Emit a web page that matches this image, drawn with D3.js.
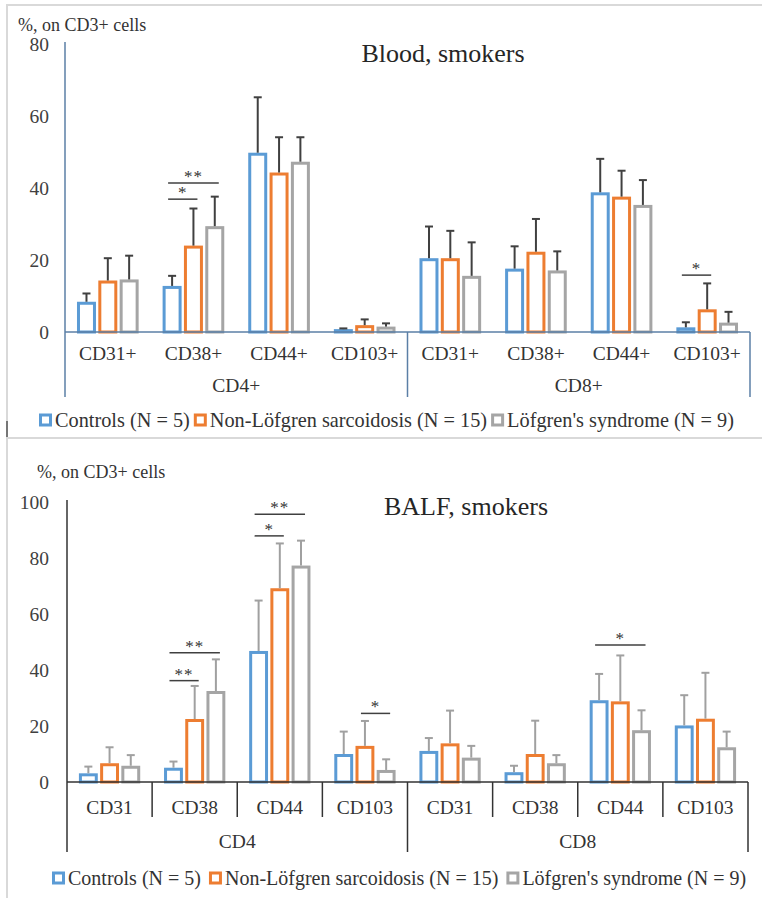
<!DOCTYPE html>
<html><head><meta charset="utf-8">
<script src="https://cdn.jsdelivr.net/npm/d3@7"></script>
<style>
html,body{margin:0;padding:0;background:#fff;}
</style></head>
<body>
<svg id="chart" width="762" height="898"></svg>
<script>
// ---------- DATA ----------
const seriesNames = ["Controls (N = 5)", "Non-Löfgren sarcoidosis (N = 15)", "Löfgren's syndrome (N = 9)"];
const seriesColors = ["#5B9BD5", "#ED7D31", "#A5A5A5"];

const bloodMarkers = ["CD31+", "CD38+", "CD44+", "CD103+", "CD31+", "CD38+", "CD44+", "CD103+"];
const bloodParents = ["CD4+", "CD8+"];
const bloodTicks = [0, 20, 40, 60, 80];
const bloodControls    = [8.4, 12.8, 49.8, 0.8, 20.5, 17.6, 38.8, 1.3];
const bloodControlsSD  = [2.3, 2.8, 15.4, 0.2, 8.8, 6.2, 9.3, 1.4];
const bloodNonLof      = [14.3, 24.0, 44.3, 1.9, 20.5, 22.3, 37.6, 6.3];
const bloodNonLofSD    = [6.2, 10.3, 9.8, 1.6, 7.6, 9.1, 7.2, 7.2];
const bloodLof         = [14.6, 29.4, 47.3, 1.5, 15.6, 17.1, 35.3, 2.6];
const bloodLofSD       = [6.6, 8.2, 6.8, 0.9, 9.3, 5.3, 6.9, 3.0];
// [category index, from series, to series, bracket level (%), label]
const bloodSig = [[1, 0, 1, 36.9, "*"], [1, 0, 2, 41.4, "**"], [7, 0, 1, 15.8, "*"]];

const balfMarkers = ["CD31", "CD38", "CD44", "CD103", "CD31", "CD38", "CD44", "CD103"];
const balfParents = ["CD4", "CD8"];
const balfTicks = [0, 20, 40, 60, 80, 100];
const balfControls   = [3.1, 5.1, 46.8, 10.0, 11.1, 3.5, 29.2, 20.2];
const balfControlsSD = [2.4, 2.2, 18.0, 8.0, 4.6, 2.3, 9.4, 10.8];
const balfNonLof     = [6.7, 22.5, 69.2, 12.9, 13.8, 10.0, 28.8, 22.6];
const balfNonLofSD   = [5.7, 11.8, 16.0, 8.9, 11.7, 11.9, 16.4, 16.4];
const balfLof        = [5.8, 32.5, 77.3, 4.3, 8.7, 6.7, 18.5, 12.4];
const balfLofSD      = [3.8, 11.3, 8.9, 3.8, 4.2, 2.9, 7.1, 5.6];
const balfSig = [[1, 0, 1, 36.2, "**"], [1, 0, 2, 46.2, "**"], [2, 0, 1, 87.9, "*"], [2, 0, 2, 95.6, "**"], [3, 1, 2, 24.5, "*"], [6, 0, 2, 48.9, "*"]];

// ---------- DRAW ----------
const FONT = "Liberation Serif";
const svg = d3.select("#chart");

// panel frames
svg.append("rect").attr("x", 7).attr("y", 5).attr("width", 770).attr("height", 433)
  .attr("fill", "none").attr("stroke", "#d9d9d9").attr("stroke-width", 2);
svg.append("rect").attr("x", 7).attr("y", 438).attr("width", 770).attr("height", 480)
  .attr("fill", "none").attr("stroke", "#d9d9d9").attr("stroke-width", 2);
svg.append("line").attr("x1", 7).attr("x2", 7).attr("y1", 421).attr("y2", 437)
  .attr("stroke", "#555").attr("stroke-width", 1.5);

function panel(o) {
  const g = svg.append("g");
  const idx = d3.range(o.markers.length);
  const x = d3.scaleBand().domain(idx).range([o.x0, o.x1]);
  const y = d3.scaleLinear().domain([0, o.ticks[o.ticks.length - 1]]).range([o.yBase, o.yTop]);
  const bw = x.bandwidth();
  const pad = bw * 0.14;
  const xs = d3.scaleBand().domain(d3.range(3)).range([pad, bw - pad]).paddingInner(0.11);
  const sw = 3;

  // y tick labels
  g.selectAll(".yt").data(o.ticks).join("text")
    .attr("x", o.yLabelX).attr("y", d => y(d) + 7)
    .attr("text-anchor", "end").attr("font-family", FONT).attr("font-size", 19.5).attr("fill", "#404040")
    .text(d => d);

  // unit label
  g.append("text").attr("x", o.unitX).attr("y", o.unitY).attr("font-family", FONT).attr("font-size", 18)
    .attr("fill", "#333").text("%, on CD3+ cells");
  // title
  g.append("text").attr("x", o.titleX).attr("y", o.titleY).attr("text-anchor", "middle")
    .attr("font-family", FONT).attr("font-size", 26).attr("fill", "#262626").text(o.title);

  // bars
  o.series.forEach((vals, s) => {
    g.selectAll(".b" + s).data(idx).join("rect")
      .attr("x", i => x(i) + xs(s) + sw / 2)
      .attr("width", xs.bandwidth() - sw)
      .attr("y", i => y(vals[i]) + sw / 2)
      .attr("height", i => Math.max(0, y(0) - y(vals[i]) - sw / 2))
      .attr("fill", "#fff").attr("stroke", seriesColors[s]).attr("stroke-width", sw);
  });
  // error bars
  o.series.forEach((vals, s) => {
    const sd = o.sds[s];
    idx.forEach(i => {
      const cx = x(i) + xs(s) + xs.bandwidth() / 2;
      g.append("line").attr("x1", cx).attr("x2", cx)
        .attr("y1", y(vals[i])).attr("y2", y(vals[i] + sd[i]))
        .attr("stroke", o.errColor).attr("stroke-width", 2);
      g.append("line").attr("x1", cx - 4).attr("x2", cx + 4)
        .attr("y1", y(vals[i] + sd[i])).attr("y2", y(vals[i] + sd[i]))
        .attr("stroke", o.errColor).attr("stroke-width", 2);
    });
  });

  // axes
  const ax = o.axisColor;
  g.append("line").attr("x1", o.x0).attr("x2", o.x0).attr("y1", o.yTop - 2).attr("y2", o.groupBottom)
    .attr("stroke", ax).attr("stroke-width", 1.5);
  g.append("line").attr("x1", o.x0).attr("x2", o.x1).attr("y1", y(0)).attr("y2", y(0))
    .attr("stroke", ax).attr("stroke-width", 1.5);
  const half = o.markers.length / 2;
  [half, o.markers.length].forEach(k => {
    const xx = k === o.markers.length ? o.x1 : x(k);
    g.append("line").attr("x1", xx).attr("x2", xx).attr("y1", y(0)).attr("y2", o.groupBottom)
      .attr("stroke", ax).attr("stroke-width", 1.5);
  });
  if (o.catSeps) {
    idx.slice(1).forEach(k => {
      if (k === half) return;
      g.append("line").attr("x1", x(k)).attr("x2", x(k)).attr("y1", y(0)).attr("y2", o.catBottom)
        .attr("stroke", ax).attr("stroke-width", 1.5);
    });
  }
  g.selectAll(".ct").data(idx).join("text")
    .attr("x", i => x(i) + bw / 2).attr("y", o.catLabelY)
    .attr("text-anchor", "middle").attr("font-family", FONT).attr("font-size", 19.5).attr("fill", "#333")
    .text(i => o.markers[i]);
  o.parents.forEach((p, j) => {
    const xa = x(j * half), xb = j === 0 ? x(half) : o.x1;
    g.append("text").attr("x", (xa + xb) / 2).attr("y", o.groupLabelY)
      .attr("text-anchor", "middle").attr("font-family", FONT).attr("font-size", 19.5).attr("fill", "#333").text(p);
  });

  // significance
  o.sig.forEach(([c, a, b, lvl, lab]) => {
    const xa = x(c) + xs(a) + xs.bandwidth() / 2 - 4;
    const xb = x(c) + xs(b) + xs.bandwidth() / 2 + 4;
    g.append("line").attr("x1", xa).attr("x2", xb).attr("y1", y(lvl)).attr("y2", y(lvl))
      .attr("stroke", "#404040").attr("stroke-width", 1.5);
    g.append("text").attr("x", (xa + xb) / 2).attr("y", y(lvl) - 1)
      .attr("text-anchor", "middle").attr("font-family", FONT).attr("font-size", 17).attr("fill", "#333")
      .attr("letter-spacing", 1).text(lab);
  });

  // legend
  let lx = o.legX;
  seriesNames.forEach((n, s) => {
    g.append("rect").attr("x", lx + 1.5).attr("y", o.legY - 5).attr("width", 10).attr("height", 10)
      .attr("fill", "#fff").attr("stroke", seriesColors[s]).attr("stroke-width", 3);
    const t = g.append("text").attr("x", lx + 16).attr("y", o.legY + 7)
      .attr("font-family", FONT).attr("font-size", o.legFont).attr("fill", "#333").text(n);
    lx += 16 + t.node().getComputedTextLength() + o.legGap;
  });
}

panel({
  markers: bloodMarkers, parents: bloodParents, ticks: bloodTicks,
  series: [bloodControls, bloodNonLof, bloodLof], sds: [bloodControlsSD, bloodNonLofSD, bloodLofSD],
  sig: bloodSig, title: "Blood, smokers",
  x0: 65, x1: 750, yBase: 332, yTop: 44, groupBottom: 397, catBottom: 397, catSeps: false,
  catLabelY: 360, groupLabelY: 392, yLabelX: 49,
  unitX: 18, unitY: 31, titleX: 443, titleY: 62,
  axisColor: "#5b7fa6", errColor: "#404040",
  legX: 39, legY: 420, legGap: 4, legFont: 20.3
});

panel({
  markers: balfMarkers, parents: balfParents, ticks: balfTicks,
  series: [balfControls, balfNonLof, balfLof], sds: [balfControlsSD, balfNonLofSD, balfLofSD],
  sig: balfSig, title: "BALF, smokers",
  x0: 67, x1: 748, yBase: 782, yTop: 502, groupBottom: 852, catBottom: 817, catSeps: true,
  catLabelY: 814, groupLabelY: 848, yLabelX: 49,
  unitX: 37, unitY: 478, titleX: 466, titleY: 515,
  axisColor: "#333", errColor: "#a0a0a0",
  legX: 52, legY: 878, legGap: 8, legFont: 20
});
</script>
</body></html>
